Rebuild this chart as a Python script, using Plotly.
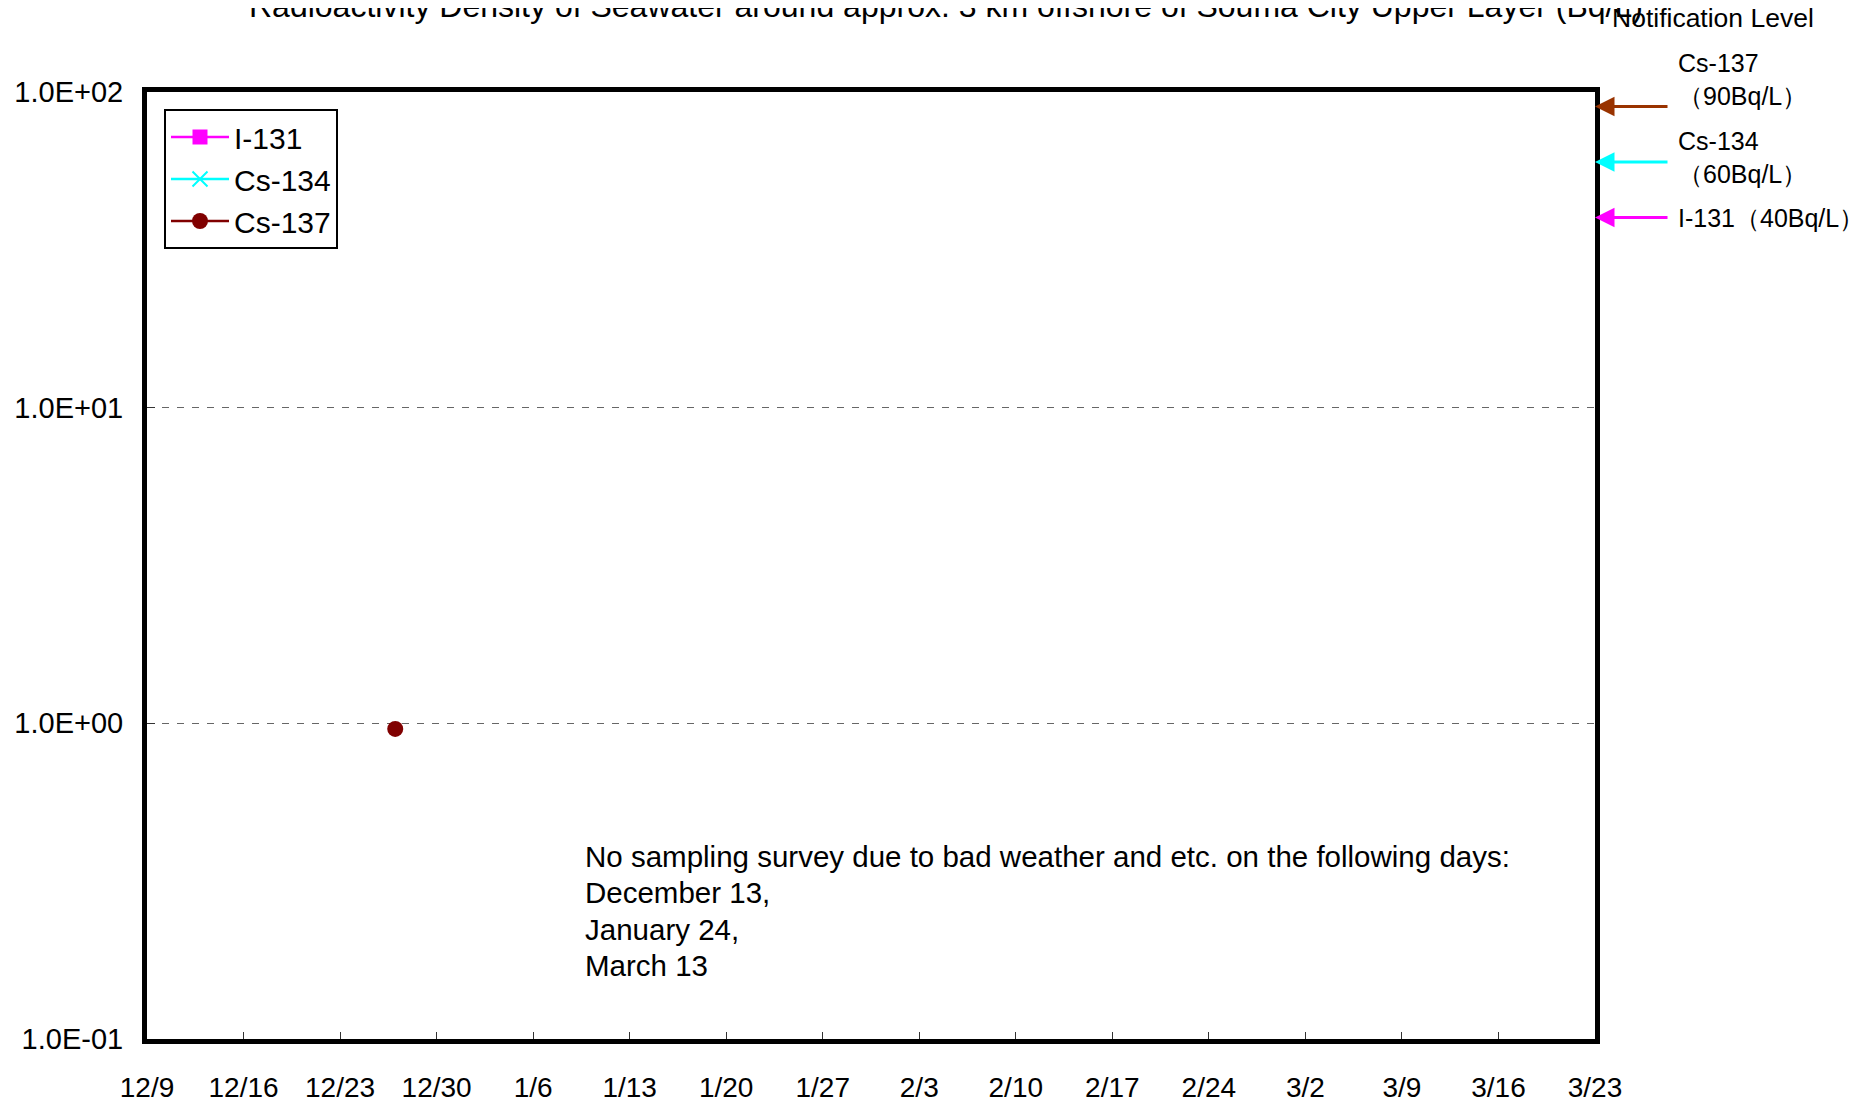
import plotly.graph_objects as go
import pandas as pd
import math

# ---- data ----
sample_dates = ["2011-12-27"]
i131_values = [None]      # not detected
cs134_values = [None]     # not detected
cs137_values = [0.96]

x_range = ["2011-12-09", "2012-03-23"]
x_tick_dates = list(pd.date_range("2011-12-09", "2012-03-23", freq="7D"))
y_tick_vals = [0.1, 1, 10, 100]
y_tick_text = ["1.0E-01", "1.0E+00", "1.0E+01", "1.0E+02"]

notif_levels = {"Cs-137": 90, "Cs-134": 60, "I-131": 40}

title_text = "Radioactivity Density of Seawater around approx. 3 km offshore of Souma City Upper Layer (Bq/L)"
note_lines = [
    "No sampling survey due to bad weather and etc. on the following days:",
    "December 13,",
    "January 24,",
    "March 13",
]

FONT = "Arial, Liberation Sans, sans-serif"
OFF = 8  # page body margin
W, H = 1865 - OFF, 1102 - OFF
# plot area in page coordinates
P_L, P_R, P_T, P_B = 147, 1595, 92, 1039
ML, MT = P_L - OFF, P_T - OFF
MR, MB = W - (P_R - OFF), H - (P_B - OFF)
PW, PH = P_R - P_L, P_B - P_T


def px_x(px):
    return (px - P_L) / PW


def px_y(py):
    return 1 + (P_T - py) / PH


fig = go.Figure()
fig.add_trace(go.Scatter(x=sample_dates, y=i131_values, name="I-131", mode="lines+markers",
                         line=dict(color="#FF00FF", width=2.5),
                         marker=dict(symbol="square", size=15, color="#FF00FF")))
fig.add_trace(go.Scatter(x=sample_dates, y=cs134_values, name="Cs-134", mode="lines+markers",
                         line=dict(color="#00FFFF", width=2.5),
                         marker=dict(symbol="x-thin", size=15, color="#00FFFF",
                                     line=dict(color="#00FFFF", width=2))))
fig.add_trace(go.Scatter(x=sample_dates, y=cs137_values, name="Cs-137", mode="lines+markers",
                         line=dict(color="#800000", width=2.5),
                         marker=dict(symbol="circle", size=16, color="#800000")))

annotations = []
# title (partly cut at top, as in the reference)
annotations.append(dict(text=title_text, xref="paper", yref="paper", x=px_x(946), y=px_y(6),
                        xanchor="center", yanchor="middle", showarrow=False,
                        font=dict(family=FONT, size=32, color="black")))
annotations.append(dict(text="Notification Level", xref="paper", yref="paper", x=px_x(1713), y=px_y(18),
                        xanchor="center", yanchor="middle", showarrow=False,
                        font=dict(family=FONT, size=26.5, color="black")))
label_specs = [
    ("Cs-137<br>（90Bq/L）", 79),
    ("Cs-134<br>（60Bq/L）", 157),
    ("I-131（40Bq/L）", 218),
]
for txt, cy in label_specs:
    annotations.append(dict(text=txt, xref="paper", yref="paper", x=px_x(1676), y=px_y(cy),
                            xanchor="left", yanchor="middle", align="left", showarrow=False,
                            font=dict(family=FONT, size=25, color="black")))
arrow_colors = {"Cs-137": "#993300", "Cs-134": "#00FFFF", "I-131": "#FF00FF"}
for nuc, lvl in notif_levels.items():
    annotations.append(dict(text="", xref="paper", yref="y", x=1, y=math.log10(lvl),
                            ax=74, ay=0, showarrow=True, arrowhead=2, arrowsize=1.3,
                            arrowwidth=3, arrowcolor=arrow_colors[nuc], standoff=0))
note_y = [856, 892.5, 929, 965]
for txt, cy in zip(note_lines, note_y):
    annotations.append(dict(text=txt, xref="paper", yref="paper", x=px_x(583), y=px_y(cy),
                            xanchor="left", yanchor="middle", showarrow=False,
                            font=dict(family=FONT, size=29.5, color="black")))

fig.update_layout(
    width=W, height=H,
    margin=dict(l=ML, r=MR, t=MT, b=MB, autoexpand=False),
    paper_bgcolor="white", plot_bgcolor="white",
    font=dict(family=FONT, size=28, color="black"),
    showlegend=True,
    legend=dict(x=px_x(164), y=px_y(109), xanchor="left", yanchor="top",
                bgcolor="white", bordercolor="black", borderwidth=2,
                font=dict(family=FONT, size=30, color="black"),
                itemwidth=58),
    annotations=annotations,
)
fig.update_xaxes(
    type="date", range=x_range, tickvals=x_tick_dates, tickformat="%-m/%-d",
    showgrid=False, zeroline=False,
    showline=True, linewidth=5, linecolor="black", mirror=True,
    ticks="inside", ticklen=7, tickwidth=1, tickcolor="#333",
    ticklabelstandoff=19,
    tickfont=dict(family=FONT, size=28, color="black"),
)
fig.update_yaxes(
    type="log", range=[-1, 2], tickvals=y_tick_vals, ticktext=y_tick_text,
    showgrid=True, gridcolor="#666", gridwidth=1, griddash="7px,8px",
    zeroline=False,
    showline=True, linewidth=5, linecolor="black", mirror=True,
    ticks="inside", ticklen=8, tickwidth=1, tickcolor="#333",
    ticklabelstandoff=13,
    tickfont=dict(family=FONT, size=29, color="black"),
)

fig.write_html("out.html")
